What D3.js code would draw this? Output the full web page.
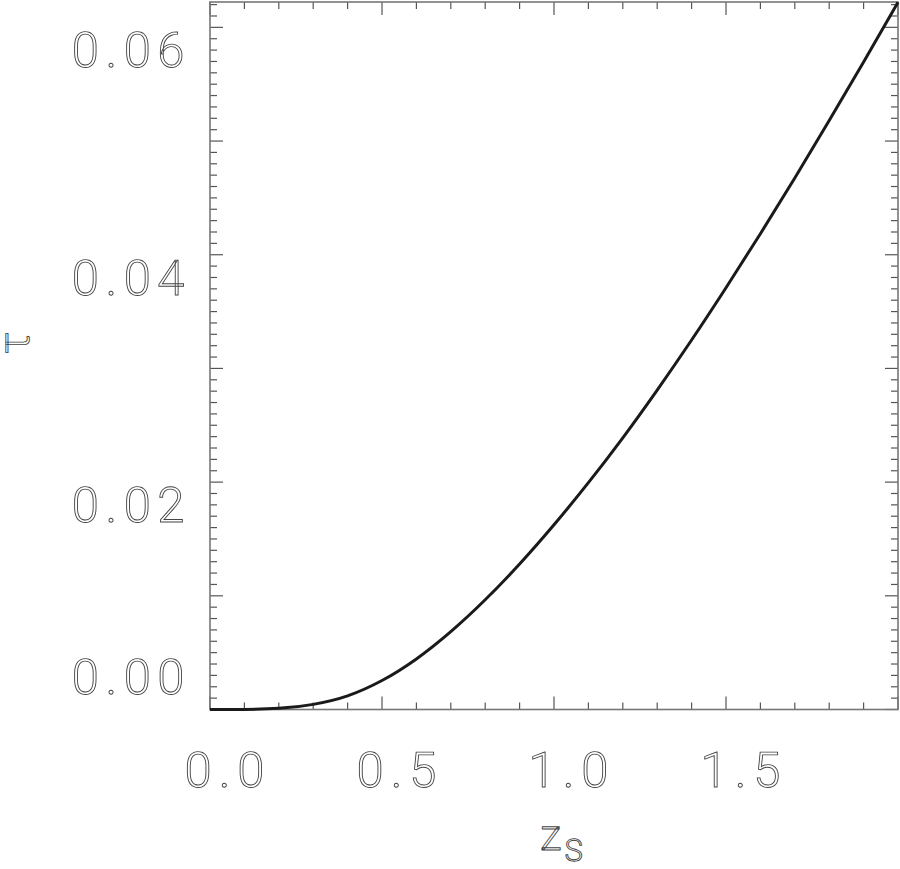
<!DOCTYPE html>
<html>
<head>
<meta charset="utf-8">
<script src="https://cdn.jsdelivr.net/npm/d3@7"></script>
<style>
  body { margin: 0; background: #fff; }
  svg { display: block; }
  .lbl { font-family: Roboto, "DejaVu Sans", sans-serif; font-weight: 300; fill: #fff; stroke: #444; stroke-width: 0.9; text-rendering: geometricPrecision; }
</style>
</head>
<body>
<svg id="chart" width="900" height="869"></svg>
<script>
// source redshift and optical depth
const zs = [0.0, 0.1, 0.2, 0.3, 0.4, 0.5, 0.6, 0.7, 0.8, 0.9, 1.0,
            1.1, 1.2, 1.3, 1.4, 1.5, 1.6, 1.7, 1.8, 1.9, 2.0];
const tau = [0.0, 0.00001, 0.0001, 0.00045, 0.0012, 0.00255, 0.00445, 0.00685, 0.00965, 0.0128, 0.01625,
             0.01995, 0.0239, 0.0281, 0.0325, 0.0371, 0.04185, 0.04675, 0.0518, 0.05695, 0.0622];

const xTickLabels = ["0.0", "0.5", "1.0", "1.5"];
const yTickLabels = ["0.00", "0.02", "0.04", "0.06"];

const svg = d3.select("#chart");
const plotL = 210, plotR = 898, plotT = 2, plotB = 709.5;

const x = d3.scaleLinear().domain([0, 2.0]).range([plotL, plotR]);
const y = d3.scaleLinear().domain([0, 0.06223]).range([plotB, plotT]);

// --- ticks (major + minor, on all four sides) ---
const xMinor = d3.range(0, 21).map((d) => d / 10);
const xMajor = d3.range(0, 5).map((d) => d / 2);
const yMinor = d3.range(0, 63).map((d) => d / 1000);
const yMajor = d3.range(0, 7).map((d) => d / 100);

const tickG = svg.append("g").attr("stroke", "#555").attr("stroke-width", 1.2);

const isMajor = (v, list) => list.some((m) => Math.abs(m - v) < 1e-9);

xMinor.forEach((v) => {
  const len = isMajor(v, xMajor) ? 13 : 7;
  tickG.append("line").attr("x1", x(v)).attr("x2", x(v)).attr("y1", plotB).attr("y2", plotB - len);
  tickG.append("line").attr("x1", x(v)).attr("x2", x(v)).attr("y1", plotT).attr("y2", plotT + len);
});
yMinor.forEach((v) => {
  const len = isMajor(v, yMajor) ? 13 : 7;
  tickG.append("line").attr("x1", plotL).attr("x2", plotL + len).attr("y1", y(v)).attr("y2", y(v));
  tickG.append("line").attr("x1", plotR).attr("x2", plotR - len).attr("y1", y(v)).attr("y2", y(v));
});

// frame
svg.append("rect")
  .attr("x", plotL).attr("y", plotT)
  .attr("width", plotR - plotL).attr("height", plotB - plotT)
  .attr("fill", "none").attr("stroke", "#777").attr("stroke-width", 1.6);

// --- curve ---
const line = d3.line()
  .x((d, i) => x(zs[i]))
  .y((d) => y(d))
  .curve(d3.curveMonotoneX);

svg.append("path")
  .datum(tau)
  .attr("fill", "none")
  .attr("stroke", "#1a1a1a")
  .attr("stroke-width", 3)
  .attr("d", line);

// --- tick labels ---
xTickLabels.forEach((t) => {
  svg.append("text")
    .attr("class", "lbl")
    .attr("x", x(+t) + 18)
    .attr("y", 786.5)
    .attr("text-anchor", "middle")
    .attr("font-size", 49)
    .attr("letter-spacing", 7)
    .text(t);
});

yTickLabels.forEach((t) => {
  // labels sit below their tick, the bottom one is lifted above the axis
  const cy = Math.min(y(+t) + 22, plotB - 33.5);
  svg.append("text")
    .attr("class", "lbl")
    .attr("x", 191)
    .attr("y", cy + 18)
    .attr("text-anchor", "end")
    .attr("font-size", 49)
    .attr("letter-spacing", 6.5)
    .text(t);
});

// --- axis titles ---
const xt = svg.append("text")
  .attr("class", "lbl")
  .attr("x", 540)
  .attr("y", 850)
  .attr("font-size", 44);
xt.append("tspan").text("z");
xt.append("tspan").attr("dx", 3).attr("dy", 11).attr("font-size", 31).text("S");

svg.append("text")
  .attr("class", "lbl")
  .attr("transform", "translate(29,343) rotate(-90)")
  .attr("text-anchor", "middle")
  .attr("font-size", 44)
  .text("τ");
</script>
</body>
</html>
